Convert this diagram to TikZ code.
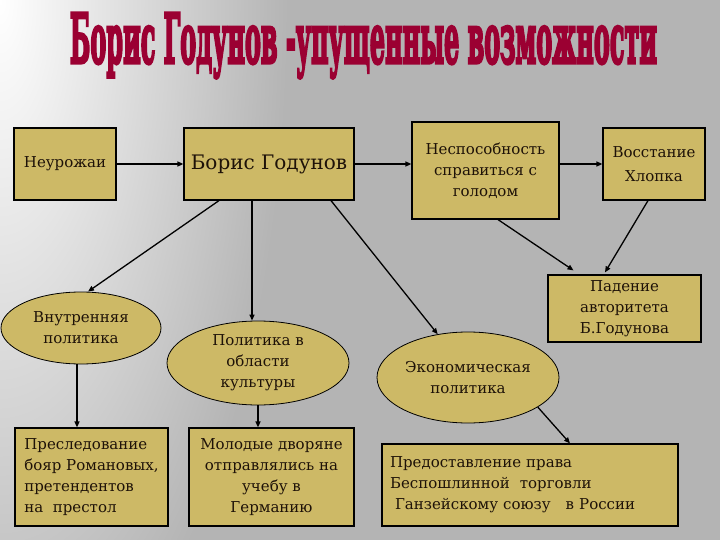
\documentclass[tikz,border=0pt]{standalone}
\usepackage{fontspec}
\usepackage{graphicx}
\setmainfont{DejaVu Serif}
\newfontfamily\titlefont{DejaVu Serif}[BoldFeatures={FakeBold=5}]
\usetikzlibrary{arrows.meta,shapes.geometric,calc}
\definecolor{bggray}{RGB}{180,180,180}
\definecolor{boxfill}{RGB}{205,185,102}
\definecolor{titlered}{RGB}{155,0,50}
\definecolor{ink}{RGB}{30,18,8}
\pgfdeclareradialshading{bgsh}{\pgfpoint{0bp}{0bp}}{color(0bp)=(white); color(20bp)=(bggray); color(25bp)=(bggray); color(50bp)=(bggray)}
\begin{document}
\begin{tikzpicture}[x=1pt,y=-1pt,
  box/.style={draw=black, line width=1.2pt, fill=boxfill, text=ink, inner sep=0pt, align=center, font=\fontsize{15}{21}\selectfont},
  oval/.style={ellipse, draw=black, line width=0.8pt, fill=boxfill, text=ink, inner sep=0pt, align=center, font=\fontsize{15}{21}\selectfont},
  conn/.style={line width=1.3pt, -{Triangle[length=6pt,width=5pt]}}]
\useasboundingbox (0,0) rectangle (720,540);
\fill[bggray] (0,0) rectangle (720,540);
\begin{scope}
\clip (0,0) rectangle (720,540);
\begin{scope}[transform canvas={xscale=0.4}]
\shade[shading=bgsh] (0,0) circle [radius=900];
\end{scope}
\end{scope}

\node[anchor=base, inner sep=0pt, text=titlered] (title) at (363.5,63)
  {\resizebox{587pt}{50pt}{\titlefont\bfseries Борис Годунов -упущенные возможности}};

\node[box, minimum width=102pt, minimum height=72pt] (neur) at (65,164) {Неурожаи};
\node[box, minimum width=170pt, minimum height=72pt, font=\fontsize{20}{24}\selectfont] (boris) at (269,164) {Борис Годунов};
\node[box, minimum width=147pt, minimum height=97pt] (nesp) at (485.5,170.5) {Неспособность\\справиться с\\голодом};
\node[box, minimum width=102pt, minimum height=72pt, font=\fontsize{15}{24}\selectfont] (vosst) at (654,164) {Восстание\\Хлопка};
\node[box, minimum width=153pt, minimum height=67pt] (paden) at (624.5,308.5) {Падение\\авторитета\\Б.Годунова};

\node[oval, minimum width=160pt, minimum height=72pt] (vnutr) at (81,328) {Внутренняя\\политика};
\node[oval, minimum width=182pt, minimum height=84pt] (kult) at (258,363) {Политика в\\области\\культуры};
\node[oval, minimum width=182pt, minimum height=91pt] (ekon) at (468,377.5) {Экономическая\\политика};

\node[box, minimum width=153pt, minimum height=98pt, align=left] (presl) at (91.5,477) {Преследование\\бояр Романовых,\\претендентов\\на\ \ престол};
\node[box, minimum width=165pt, minimum height=98pt] (molod) at (271.5,477) {Молодые дворяне\\отправлялись на\\учебу в\\Германию};
\node[box, minimum width=296pt, minimum height=82pt, align=left, text width=280pt] (predost) at (530,485) {Предоставление права\\Беспошлинной\ \ торговли\\\ Ганзейскому союзу\ \ \ в России};

\draw[conn] (neur.east) -- (boris.west);
\draw[conn] (boris.east) -- (nesp.west |- boris.east);
\draw[conn] (nesp.east |- vosst.west) -- (vosst.west);
\draw[conn] ([xshift=-50pt]boris.south) -- ([xshift=7pt]vnutr.north);
\draw[conn] ([xshift=-17pt]boris.south) -- ([xshift=-6pt]kult.north);
\draw[conn] ([xshift=62pt]boris.south) -- (ekon.125);
\draw[conn] ([xshift=12.5pt]nesp.south) -- ([xshift=-51pt,yshift=4pt]paden.north);
\draw[conn] ([xshift=-6pt]vosst.south) -- ([xshift=-19.5pt,yshift=2pt]paden.north);
\draw[conn] ([xshift=-4pt]vnutr.south) -- ([xshift=-14.5pt]presl.north);
\draw[conn] (kult.south) -- ([xshift=-13.5pt]molod.north);
\draw[conn] (ekon.-23) -- ([xshift=40pt]predost.north);
\end{tikzpicture}
\end{document}
